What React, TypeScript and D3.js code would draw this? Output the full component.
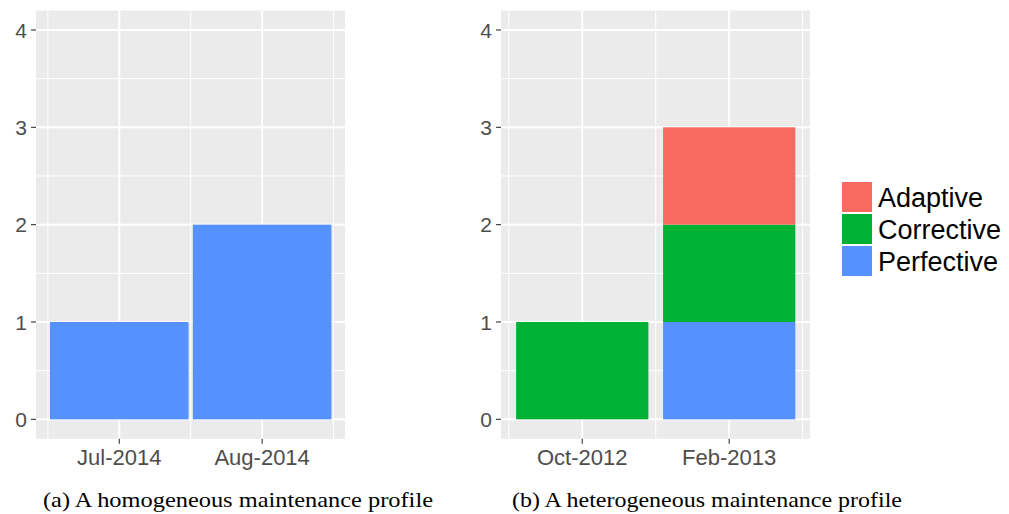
import React from 'react';
import * as d3 from 'd3';

// data
const leftMonths = ['Jul-2014', 'Aug-2014'];
const leftPerfective = [1, 2];

const rightMonths = ['Oct-2012', 'Feb-2013'];
const rightPerfective = [0, 1];
const rightCorrective = [1, 1];
const rightAdaptive = [0, 1];

const types = ['Adaptive', 'Corrective', 'Perfective'];
const typeColors = ['#F8695F', '#00B234', '#5591FF'];
const yTicks = [0, 1, 2, 3, 4];
const yMinor = [0.5, 1.5, 2.5, 3.5];

const captions = ['(a) A homogeneous maintenance profile', '(b) A heterogeneous maintenance profile'];

const width = 1009;
const height = 514;
const sans = 'Liberation Sans, Arial, sans-serif';

const color = d3.scaleOrdinal<string, string>().domain(types).range(typeColors);

// y scale shared by both panels (ggplot adds 5% on each side)
const y = d3.scaleLinear().domain([-0.2, 4.2]).range([438.8, 10.5]);

type Panel = {
  left: number;
  right: number;
  dom: [number, number];
  barWidth: number;
  months: string[];
  rows: { [k: string]: number }[];
};

const panels: Panel[] = [
  {
    left: 36,
    right: 345,
    dom: [0.417, 2.58],
    barWidth: 0.97,
    months: leftMonths,
    rows: leftMonths.map((m, i) => ({ Adaptive: 0, Corrective: 0, Perfective: leftPerfective[i] })),
  },
  {
    left: 501,
    right: 810,
    dom: [0.447, 2.55],
    barWidth: 0.9,
    months: rightMonths,
    rows: rightMonths.map((m, i) => ({
      Adaptive: rightAdaptive[i],
      Corrective: rightCorrective[i],
      Perfective: rightPerfective[i],
    })),
  },
];

// stack order from the bottom: Perfective, Corrective, Adaptive
const stack = d3.stack<{ [k: string]: number }>().keys(['Perfective', 'Corrective', 'Adaptive']);

const PanelView = ({ p }: { p: Panel }) => {
  const x = d3.scaleLinear().domain(p.dom).range([p.left, p.right]);
  const series = stack(p.rows);
  const xMinor = [0.5, 1.5, 2.5].filter(v => v > p.dom[0] && v < p.dom[1]);
  const top = y(4.2);
  const bottom = y(-0.2);
  return (
    <g>
      <rect x={p.left} y={top} width={p.right - p.left} height={bottom - top} fill="#EBEBEB" />
      {yMinor.map(v => (
        <line key={'ym' + v} x1={p.left} x2={p.right} y1={y(v)} y2={y(v)} stroke="#fff" strokeWidth={1} />
      ))}
      {xMinor.map(v => (
        <line key={'xm' + v} x1={x(v)} x2={x(v)} y1={top} y2={bottom} stroke="#fff" strokeWidth={1} />
      ))}
      {yTicks.map(v => (
        <line key={'y' + v} x1={p.left} x2={p.right} y1={y(v)} y2={y(v)} stroke="#fff" strokeWidth={2} />
      ))}
      {p.months.map((m, i) => (
        <line key={'x' + m} x1={x(i + 1)} x2={x(i + 1)} y1={top} y2={bottom} stroke="#fff" strokeWidth={2} />
      ))}
      {series.map(s =>
        s.map((d, i) =>
          d[1] - d[0] > 0 ? (
            <rect
              key={s.key + i}
              x={x(i + 1 - p.barWidth / 2)}
              width={x(i + 1 + p.barWidth / 2) - x(i + 1 - p.barWidth / 2)}
              y={y(d[1])}
              height={y(d[0]) - y(d[1])}
              fill={color(s.key)}
            />
          ) : null
        )
      )}
      {/* y axis */}
      {yTicks.map(v => (
        <g key={'yt' + v}>
          <line x1={p.left - 5} x2={p.left} y1={y(v)} y2={y(v)} stroke="#333" strokeWidth={1.1} />
          <text x={p.left - 9} y={y(v)} dy="0.36em" textAnchor="end" fontSize={21} fill="#4D4D4D"
            fontFamily={sans}>{v}</text>
        </g>
      ))}
      {/* x axis */}
      {p.months.map((m, i) => (
        <g key={'xt' + m}>
          <line x1={x(i + 1)} x2={x(i + 1)} y1={bottom} y2={bottom + 5} stroke="#333" strokeWidth={1.1} />
          <text x={x(i + 1)} y={465} textAnchor="middle" fontSize={22} fill="#4D4D4D"
            fontFamily={sans}>{m}</text>
        </g>
      ))}
    </g>
  );
};

const App = () => {
  const keyY = d3.scaleBand().domain(types).range([181, 277]);
  return (
    <svg width={width} height={height} style={{ position: 'absolute', left: 0, top: 0 }}>
      <rect width={width} height={height} fill="#fff" />
      {panels.map((p, i) => (
        <PanelView key={i} p={p} />
      ))}
      {/* legend */}
      {types.map(t => (
        <g key={t}>
          <rect x={842} y={keyY(t)! + 1} width={30} height={keyY.bandwidth() - 2} fill={color(t)} />
          <text x={878} y={keyY(t)! + keyY.bandwidth() / 2} dy="0.36em" fontSize={27} fill="#000"
            fontFamily={sans}>{t}</text>
        </g>
      ))}
      {/* captions */}
      <text x={238} y={507} textAnchor="middle" fontSize={22} fill="#000" textLength={390}
        lengthAdjust="spacingAndGlyphs" fontFamily="Liberation Serif, serif">{captions[0]}</text>
      <text x={707} y={507} textAnchor="middle" fontSize={22} fill="#000" textLength={390}
        lengthAdjust="spacingAndGlyphs" fontFamily="Liberation Serif, serif">{captions[1]}</text>
    </svg>
  );
};

export default App;
